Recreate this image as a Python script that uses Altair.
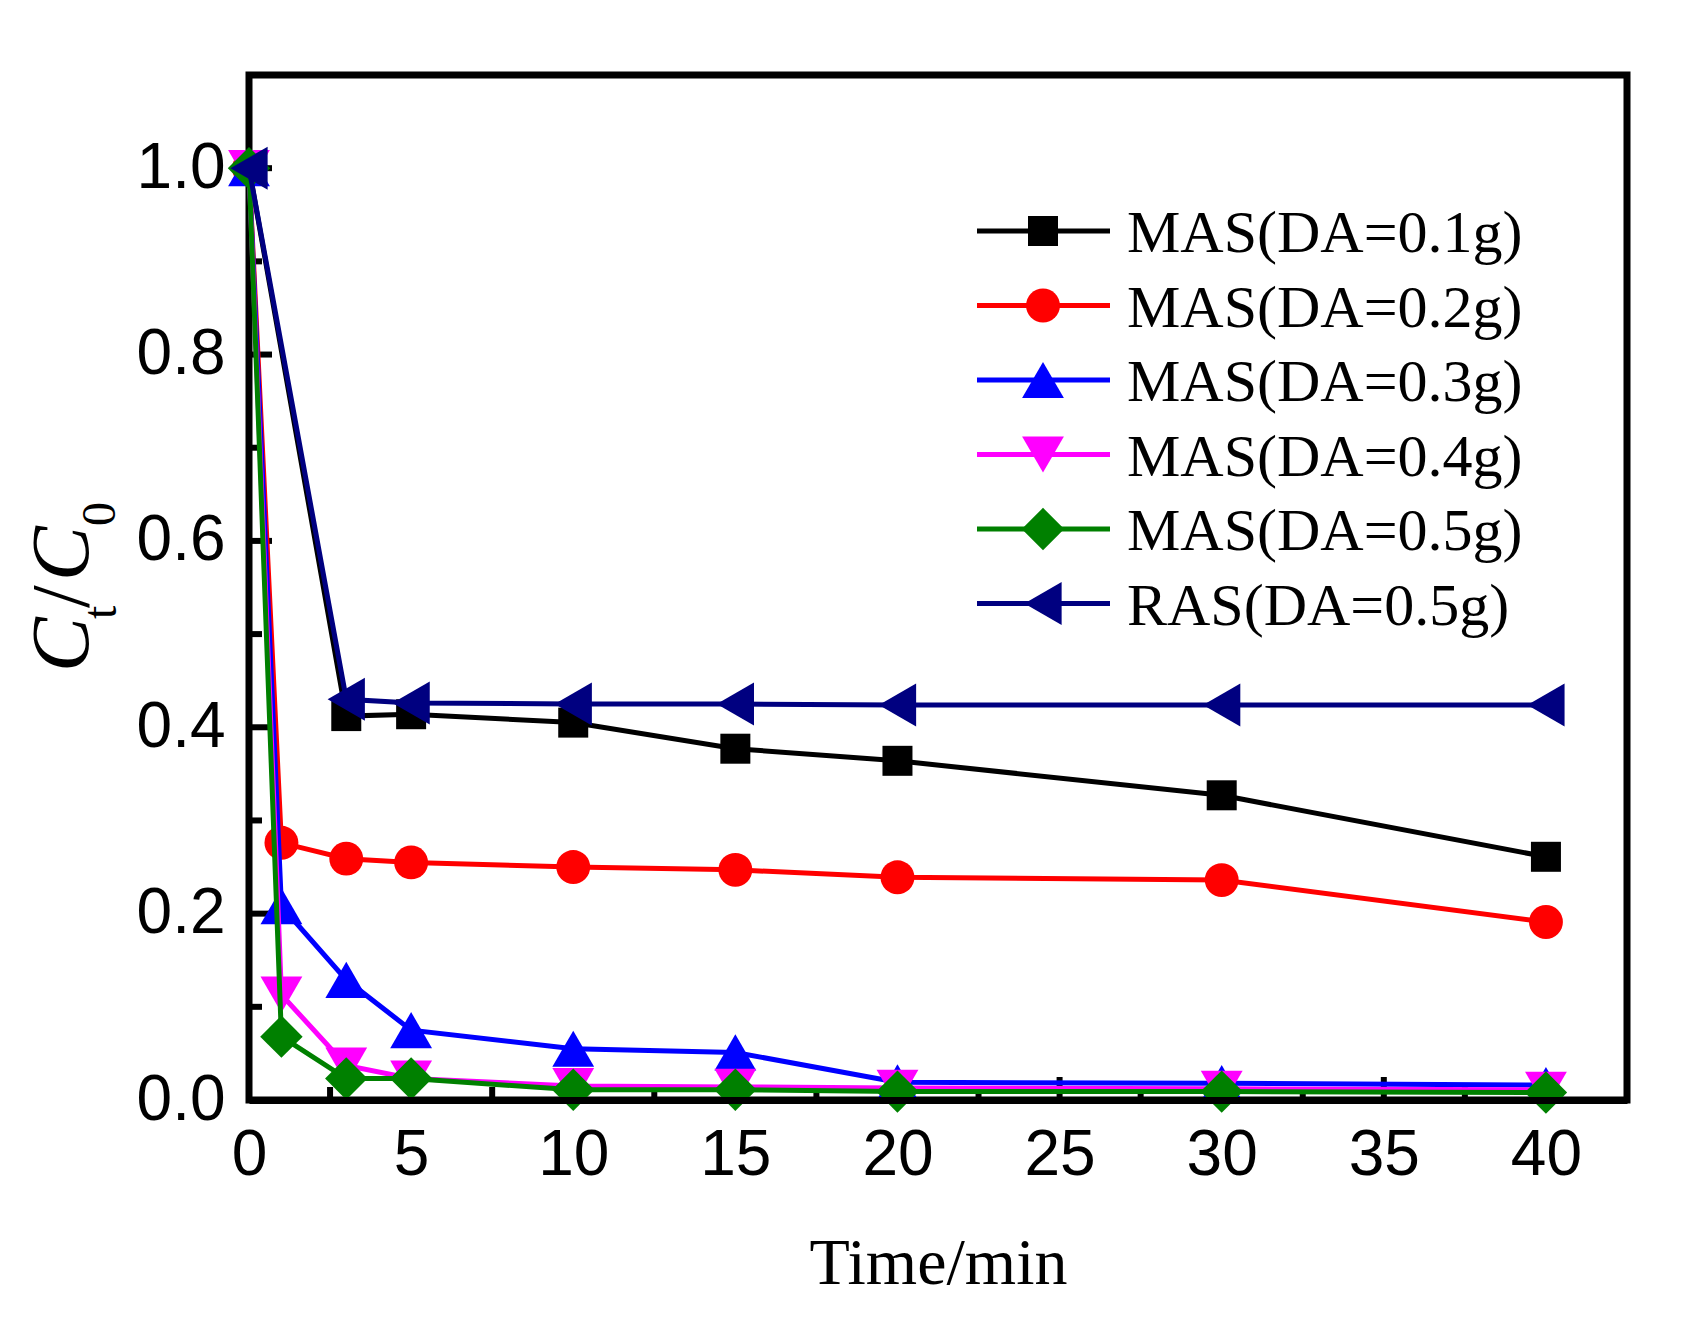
import altair as alt
import pandas as pd

# plot area (px)
W, H = 1378, 1025

time_a = [0, 3, 5, 10, 15, 20, 30, 40]
time_b = [0, 1, 3, 5, 10, 15, 20, 30, 40]

mas_01 = [1.0, 0.412, 0.414, 0.405, 0.377, 0.364, 0.327, 0.261]
mas_02 = [1.0, 0.276, 0.259, 0.255, 0.250, 0.247, 0.239, 0.236, 0.191]
mas_03 = [1.0, 0.208, 0.129, 0.075, 0.055, 0.051, 0.019, 0.018, 0.016]
mas_04 = [1.0, 0.113, 0.037, 0.023, 0.015, 0.014, 0.013, 0.012, 0.011]
mas_05 = [1.0, 0.068, 0.023, 0.023, 0.011, 0.011, 0.009, 0.009, 0.008]
ras_05 = [1.0, 0.430, 0.426, 0.425, 0.425, 0.424, 0.424, 0.424]

names = ["MAS(DA=0.1g)", "MAS(DA=0.2g)", "MAS(DA=0.3g)",
         "MAS(DA=0.4g)", "MAS(DA=0.5g)", "RAS(DA=0.5g)"]
times = [time_a, time_b, time_b, time_b, time_b, time_a]
values = [mas_01, mas_02, mas_03, mas_04, mas_05, ras_05]
colors = ["#000000", "#ff0000", "#0000ff", "#ff00ff", "#008000", "#000080"]
shapes = ["square", "circle", "triangle-up", "triangle-down", "diamond", "triangle-left"]
sizes = [900, 1150, 1750, 1750, 1800, 1850]

x_major = [5, 10, 15, 20, 25, 30, 35, 40]
x_minor = [2.5, 7.5, 12.5, 17.5, 22.5, 27.5, 32.5, 37.5]
y_major = [0.2, 0.4, 0.6, 0.8, 1.0]
y_minor = [0.1, 0.3, 0.5, 0.7, 0.9]

rows = []
for name, ts, vs in zip(names, times, values):
    for t, v in zip(ts, vs):
        rows.append({"series": name, "t": t, "v": v})
df = pd.DataFrame(rows)

x_scale = alt.Scale(domain=[0, 42.5], nice=False, zero=False)
y_scale = alt.Scale(domain=[0, 1.1], nice=False)

x_axis = alt.Axis(values=[0, 5, 10, 15, 20, 25, 30, 35, 40], format="d",
                  labelFont="Liberation Sans", labelFontSize=64, labelColor="black",
                  labelPadding=23, labelFlush=False, labelOverlap=False,
                  ticks=False, tickSize=0, grid=False,
                  domain=True, domainWidth=7, domainColor="black", zindex=1,
                  title="Time/min", titleFont="Liberation Serif", titleFontSize=66,
                  titleFontWeight="normal", titleColor="black",
                  titleBaseline="alphabetic", titleY=183)
y_axis = alt.Axis(values=[0.0, 0.2, 0.4, 0.6, 0.8, 1.0], format=".1f",
                  labelFont="Liberation Sans", labelFontSize=64, labelColor="black",
                  labelPadding=24, labelFlush=False, labelOverlap=False,
                  ticks=False, tickSize=0, grid=False, domain=False)

X = alt.X("t:Q", scale=x_scale, axis=x_axis)
Y = alt.Y("v:Q", scale=y_scale, axis=y_axis, title=None)

layers = []

# inward ticks
tick_x = pd.DataFrame({"t": x_major + x_minor,
                       "len": [23] * len(x_major) + [13] * len(x_minor)})
for ln in (23, 13):
    layers.append(
        alt.Chart(tick_x).transform_filter(alt.datum.len == ln)
        .mark_rule(color="black", strokeWidth=6)
        .encode(x=X, y=alt.value(H), y2=alt.value(H - ln))
    )
tick_y = pd.DataFrame({"v": y_major + y_minor,
                       "len": [23] * len(y_major) + [13] * len(y_minor)})
for ln in (23, 13):
    layers.append(
        alt.Chart(tick_y).transform_filter(alt.datum.len == ln)
        .mark_rule(color="black", strokeWidth=6)
        .encode(y=Y, x=alt.value(0), x2=alt.value(ln))
    )

# data series: line then symbols, one series at a time
base = alt.Chart(df)
for name, col, shp, sz in zip(names, colors, shapes, sizes):
    sub = base.transform_filter(alt.datum.series == name)
    layers.append(sub.mark_line(color=col, strokeWidth=5).encode(x=X, y=Y))
    layers.append(sub.mark_point(shape=shp, size=sz, filled=True, color=col,
                                 opacity=1, strokeWidth=0).encode(x=X, y=Y))

# legend
leg_top, leg_step = 156, 74.5
for i, (name, col, shp, sz) in enumerate(zip(names, colors, shapes, sizes)):
    yc = leg_top + i * leg_step
    one = alt.Chart(pd.DataFrame({"label": [name]}))
    layers.append(one.mark_rule(color=col, strokeWidth=5).encode(
        x=alt.value(728), x2=alt.value(861), y=alt.value(yc)))
    layers.append(one.mark_point(shape=shp, size=sz, filled=True, color=col,
                                 opacity=1, strokeWidth=0).encode(
        x=alt.value(794), y=alt.value(yc)))
    layers.append(one.mark_text(font="Liberation Serif", fontSize=60, color="black",
                                align="left", baseline="alphabetic").encode(
        x=alt.value(878), y=alt.value(yc + 21), text="label:N"))

# y title: C_t / C_0 (rotated, with subscripts)
title_parts = [
    ("C", -161, 597, 82, "italic"),
    ("t", -133, 544, 48, "normal"),
    ("/", -161, 533, 82, "normal"),
    ("C", -161, 506, 82, "italic"),
    ("0", -134, 451, 48, "normal"),
]
for txt, px, py, fs, style in title_parts:
    layers.append(
        alt.Chart(pd.DataFrame({"s": [txt]}))
        .mark_text(font="Liberation Serif", fontSize=fs, fontStyle=style, angle=270,
                   align="left", baseline="alphabetic", color="black")
        .encode(x=alt.value(px), y=alt.value(py), text="s:N")
    )

chart = alt.layer(*layers).properties(
    width=W, height=H,
    autosize=alt.AutoSizeParams(type="none"),
    padding={"left": 241, "top": 67, "right": 70, "bottom": 220},
).configure_view(stroke="black", strokeWidth=7)

chart.save("out.html", embed_options={"renderer": "svg", "actions": False})
